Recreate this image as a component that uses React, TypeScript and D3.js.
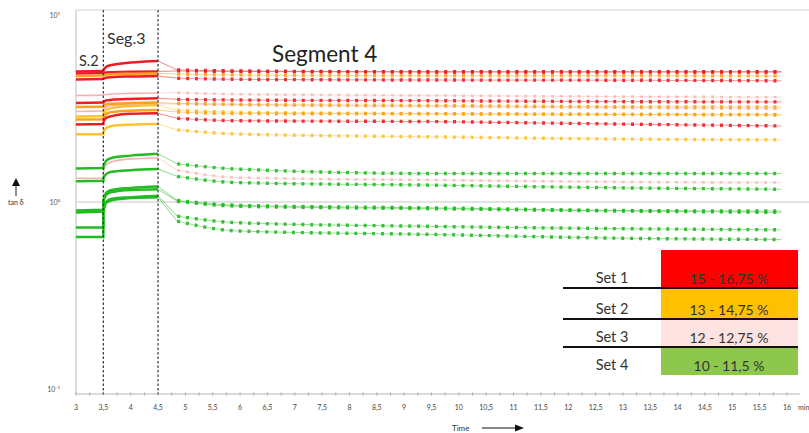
import React from "react";
import * as d3 from "d3";

const W = 809;
const H = 433;

// x ticks (minutes)
const xTicks = [3, 3.5, 4, 4.5, 5, 5.5, 6, 6.5, 7, 7.5, 8, 8.5, 9, 9.5, 10, 10.5, 11, 11.5, 12, 12.5, 13, 13.5, 14, 14.5, 15, 15.5, 16];
const yTickValues = [0.1, 1, 10];
const yTickLabels = ["10⁻¹", "10⁰", "10¹"];

// sampling times of each segment (min)
const seg2X = [3.0, 3.5];
const seg3X = [3.5, 3.55, 3.65, 4.0, 4.5];
const seg4X = [4.85, 5.95, 9.6, 13.0, 15.9];

// set membership / colour of each measured curve
const seriesColor = [
  "#ee1c24", "#ee1c24", "#f9a21b", "#ee1c24",
  "#f7b3b3", "#ee1c24", "#f9a21b", "#f7b3b3", "#fcc234", "#f9a21b", "#ee1c24", "#fcc234",
  "#22bb22", "#f7b3b3", "#22bb22", "#22bb22", "#22bb22", "#22bb22", "#22bb22",
];

// tan δ values, segment 2
const seg2Values = [
  [4.99, 5.02], [4.87, 4.9], [4.72, 4.75], [4.52, 4.55],
  [3.71, 3.73], [3.38, 3.4], [3.22, 3.23], [3.05, 3.07], [2.87, 2.88], [2.76, 2.77], [2.6, 2.61], [2.3, 2.3],
  [1.51, 1.52], [1.34, 1.34], [1.29, 1.3], [0.9, 0.91], [0.88, 0.89], [0.73, 0.73], [0.65, 0.65],
];

// tan δ values, segment 3
const seg3Values = [
  [5.05, 5.27, 5.4, 5.57, 5.68], [4.9, 4.93, 4.94, 4.97, 4.99], [4.75, 4.79, 4.82, 4.85, 4.87], [4.55, 4.62, 4.65, 4.69, 4.72],
  [3.73, 3.76, 3.78, 3.81, 3.83], [3.43, 3.49, 3.52, 3.56, 3.59], [3.26, 3.32, 3.35, 3.38, 3.4], [3.1, 3.22, 3.28, 3.33, 3.35],
  [2.96, 3.1, 3.18, 3.26, 3.3], [2.81, 2.96, 3.03, 3.08, 3.1], [2.68, 2.81, 2.88, 2.96, 2.98], [2.37, 2.49, 2.55, 2.59, 2.61],
  [1.56, 1.66, 1.72, 1.77, 1.81], [1.45, 1.58, 1.64, 1.7, 1.72], [1.34, 1.41, 1.45, 1.48, 1.5],
  [1.02, 1.12, 1.16, 1.19, 1.21], [1.0, 1.09, 1.13, 1.16, 1.17], [0.91, 1.0, 1.04, 1.06, 1.08], [0.88, 0.99, 1.02, 1.05, 1.06],
];

// tan δ values, segment 4
const seg4Values = [
  [5.08, 5.02, 4.97, 4.97, 4.97], [5.02, 4.99, 4.96, 4.96, 4.96], [4.84, 4.78, 4.74, 4.74, 4.72], [4.59, 4.53, 4.49, 4.48, 4.45],
  [3.84, 3.77, 3.71, 3.66, 3.64], [3.54, 3.51, 3.48, 3.44, 3.43], [3.37, 3.33, 3.28, 3.23, 3.22], [3.34, 3.3, 3.24, 3.18, 3.14],
  [3.1, 3.02, 2.97, 2.94, 2.94], [3.03, 2.97, 2.96, 2.94, 2.92], [2.8, 2.72, 2.69, 2.61, 2.55], [2.43, 2.31, 2.23, 2.17, 2.15],
  [1.6, 1.5, 1.42, 1.42, 1.42], [1.48, 1.35, 1.31, 1.28, 1.27], [1.37, 1.27, 1.23, 1.19, 1.17],
  [1.02, 0.96, 0.93, 0.9, 0.895], [1.01, 0.95, 0.92, 0.895, 0.88], [0.84, 0.775, 0.74, 0.72, 0.71], [0.79, 0.7, 0.67, 0.64, 0.63],
];

const legendSets = ["Set 1", "Set 2", "Set 3", "Set 4"];
const legendRanges = ["15 - 16,75 %", "13 - 14,75 %", "12 - 12,75 %", "10 - 11,5 %"];
const legendColors = ["#ff0000", "#ffc000", "#fde2e2", "#8dc84c"];
const legendRowTops = [250, 288, 319, 347, 375];

const segLabels = ["S.2", "Seg.3", "Segment 4"];

const FONT = "Lato, 'Open Sans', 'DejaVu Sans', sans-serif";

export default function App() {
  const x = d3.scaleLinear().domain([3, 16]).range([76, 787]);
  const y = d3.scaleLog().domain([0.1, 10]).range([389, 15]);
  const plotTop = 10;
  const plotBottom = 394;
  const plotLeft = 76;

  const lin = d3.line<[number, number]>().x((d) => x(d[0])).y((d) => y(d[1]));
  const mono = d3
    .line<[number, number]>()
    .x((d) => x(d[0]))
    .y((d) => y(d[1]))
    .curve(d3.curveMonotoneX);

  const order = seriesColor
    .map((c, i) => ({ c, i }))
    .sort((a, b) => (a.c === "#f7b3b3" ? -1 : 0) - (b.c === "#f7b3b3" ? -1 : 0))
    .map((d) => d.i);

  const minorTicks = d3.range(3, 16.01, 0.25);

  return (
    <svg
      width={W}
      height={H}
      style={{ position: "absolute", left: 0, top: 0, background: "#fff" }}
      fontFamily={FONT}
    >
      {/* frame */}
      <line x1={plotLeft} x2={W} y1={plotTop} y2={plotTop} stroke="#d0d0d0" strokeWidth={1} />
      <line x1={plotLeft} x2={plotLeft} y1={plotTop} y2={plotBottom} stroke="#c8c8c8" strokeWidth={1.2} />
      <line x1={plotLeft} x2={W} y1={y(1)} y2={y(1)} stroke="#dadada" strokeWidth={1.5} />

      {/* y tick labels */}
      {yTickValues.map((v, i) => (
        <text key={i} x={60} y={y(v) + 2.5} fontSize={7} fill="#555" textAnchor="end">
          {yTickLabels[i]}
        </text>
      ))}

      {/* tan δ label with arrow */}
      <line x1={16} x2={16} y1={184} y2={196} stroke="#222" strokeWidth={1} />
      <path d="M12,186 L20,186 L16,178 Z" fill="#111" />
      <text x={8} y={205} fontSize={7} fill="#333">tan δ</text>

      {/* x axis */}
      <line x1={plotLeft} x2={800} y1={plotBottom} y2={plotBottom} stroke="#b8b8b8" strokeWidth={1} />
      {minorTicks.map((t, i) => (
        <line key={"m" + i} x1={x(t)} x2={x(t)} y1={plotBottom - 1.5} y2={plotBottom + 1.5} stroke="#aaa" strokeWidth={1} />
      ))}
      {xTicks.map((t, i) => (
        <text key={"t" + i} x={x(t)} y={410} fontSize={7} fill="#444" textAnchor="middle">
          {String(t).replace(".", ",")}
        </text>
      ))}
      <text x={798} y={410} fontSize={7} fill="#444">min</text>
      <text x={452} y={431} fontSize={8} fill="#333">Time</text>
      <line x1={482} x2={517} y1={428} y2={428} stroke="#111" strokeWidth={1} />
      <path d="M515,424.5 L524,428 L515,431.5 Z" fill="#111" />

      {/* curves */}
      {order.map((i) => {
        const col = seriesColor[i];
        const isPink = col === "#f7b3b3";
        const p2: [number, number][] = seg2X.map((t, k) => [t, seg2Values[i][k]] as [number, number]);
        p2.push([seg3X[0], seg3Values[i][0]]);
        const p3: [number, number][] = seg3X.map((t, k) => [t, seg3Values[i][k]] as [number, number]);
        const pT: [number, number][] = [
          [seg3X[seg3X.length - 1], seg3Values[i][seg3X.length - 1]],
          [seg4X[0], seg4Values[i][0]],
        ];
        const p4: [number, number][] = seg4X.map((t, k) => [t, seg4Values[i][k]] as [number, number]);
        const sw = isPink ? 1.6 : 2.5;
        return (
          <g key={i}>
            <path d={lin(p2) || ""} fill="none" stroke={col} strokeWidth={sw} />
            <path d={mono(p3) || ""} fill="none" stroke={col} strokeWidth={sw} />
            <path d={lin(pT) || ""} fill="none" stroke={col} strokeWidth={0.9} opacity={0.6} />
            <path d={mono(p4) || ""} fill="none" stroke={col} strokeWidth={0.9} opacity={0.5} />
            <path
              d={mono(p4) || ""}
              fill="none"
              stroke={col}
              strokeWidth={isPink ? 2.6 : 3.4}
              strokeDasharray="3 5.9"
              opacity={isPink ? 0.8 : 0.9}
            />
          </g>
        );
      })}

      {/* segment boundaries */}
      {[3.5, 4.5].map((t) => (
        <line key={t} x1={x(t)} x2={x(t)} y1={plotTop} y2={plotBottom} stroke="#333" strokeWidth={1.2} strokeDasharray="2.5 2" />
      ))}

      {/* segment labels */}
      <text x={79} y={66} fontSize={14.5} fill="#333">{segLabels[0]}</text>
      <text x={107} y={44} fontSize={16} fill="#333">{segLabels[1]}</text>
      <text x={272} y={62} fontSize={22.5} fill="#222">{segLabels[2]}</text>

      {/* legend table */}
      {legendSets.map((s, i) => {
        const top = legendRowTops[i];
        const bot = legendRowTops[i + 1];
        return (
          <g key={s}>
            <rect x={661} y={top} width={137} height={bot - top} fill={legendColors[i]} />
            <text x={612} y={bot - 5} fontSize={14.5} fill="#333" textAnchor="middle">{s}</text>
            <text x={729} y={bot - 4} fontSize={14} fill="#333" textAnchor="middle">{legendRanges[i]}</text>
          </g>
        );
      })}
      {[1, 2, 3].map((k) => (
        <line key={k} x1={563} x2={798} y1={legendRowTops[k]} y2={legendRowTops[k]} stroke="#111" strokeWidth={2} />
      ))}
    </svg>
  );
}
